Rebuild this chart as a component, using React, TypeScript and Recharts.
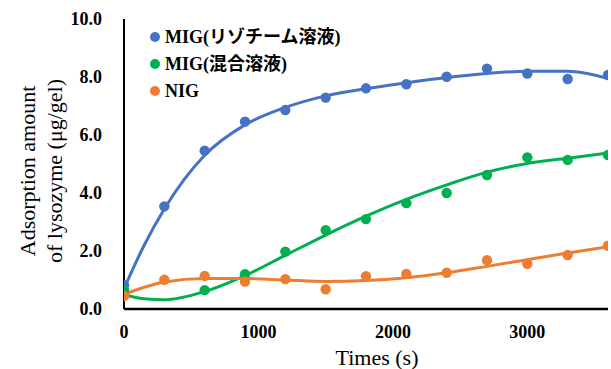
import React from 'react';
import { ComposedChart, Line, Scatter, XAxis, YAxis } from 'recharts';

const times = [0, 300, 600, 900, 1200, 1500, 1800, 2100, 2400, 2700, 3000, 3300, 3600];
const migLysozyme = [0.82, 3.54, 5.46, 6.46, 6.86, 7.29, 7.61, 7.75, 8.01, 8.29, 8.12, 7.93, 8.07];
const migMixed = [0.66, null, 0.65, 1.2, 1.98, 2.72, 3.1, 3.65, 4.0, 4.62, 5.23, 5.14, 5.31];
const nig = [0.45, 1.01, 1.14, 0.95, 1.03, 0.68, 1.13, 1.21, 1.25, 1.68, 1.56, 1.86, 2.18];

const trendTimes = [0, 150, 300, 600, 900, 1200, 1500, 1800, 2100, 2400, 2700, 3000, 3300, 3600];
const trendLysozyme = [0.7, 2.2, 3.45, 5.3, 6.35, 6.95, 7.35, 7.6, 7.8, 7.98, 8.12, 8.2, 8.2, 7.95];
const trendMixed = [0.5, 0.35, 0.32, 0.6, 1.15, 1.85, 2.55, 3.2, 3.78, 4.28, 4.72, 5.02, 5.2, 5.38];
const trendNig = [0.5, 0.75, 0.93, 1.05, 1.05, 1.0, 0.95, 0.98, 1.08, 1.25, 1.47, 1.7, 1.93, 2.15];

const xTicks = [0, 1000, 2000, 3000];
const yTicks = [0, 2, 4, 6, 8, 10];
const seriesNames = ['MIG(リゾチーム溶液)', 'MIG(混合溶液)', 'NIG'];
const colors = ['#4472C4', '#00B050', '#ED7D31'];

const FONT = "'Liberation Serif', 'Times New Roman', 'Noto Sans CJK JP', serif";

const toPoints = (xs: number[], ys: (number | null)[]) =>
  xs.map((t, i) => ({ t, v: ys[i] })).filter((d) => d.v !== null);

const pointSets = [toPoints(times, migLysozyme), toPoints(times, migMixed), toPoints(times, nig)];
const trendSets = [toPoints(trendTimes, trendLysozyme), toPoints(trendTimes, trendMixed), toPoints(trendTimes, trendNig)];

const dot = (color: string) => (props: any) => (
  <circle cx={props.cx} cy={props.cy} r={5.2} fill={color} />
);

const LegendBox = () => (
  <div
    style={{
      position: 'absolute',
      left: 150,
      top: 23,
      fontFamily: FONT,
      fontWeight: 'bold',
      fontSize: 18,
      color: '#000',
      lineHeight: 1,
    }}
  >
    {seriesNames.map((n, i) => (
      <div key={n} style={{ display: 'flex', alignItems: 'center', height: 27 }}>
        <span
          style={{
            display: 'inline-block',
            width: 10,
            height: 10,
            borderRadius: 5,
            background: colors[i],
            marginRight: 5,
          }}
        />
        <span>{n}</span>
      </div>
    ))}
  </div>
);

const YTitle = (props: any) => {
  const vb = props.viewBox || { x: 0, y: 19, width: 124, height: 290 };
  const cy = vb.y + vb.height / 2 + 7;
  return (
    <g fontFamily={FONT} fontSize={22} fill="#000">
      <text x={27} y={cy} transform={`rotate(-90, 27, ${cy})`} textAnchor="middle" dominantBaseline="central">
        Adsorption amount
      </text>
      <text x={54} y={cy} transform={`rotate(-90, 54, ${cy})`} textAnchor="middle" dominantBaseline="central">
        of lysozyme (μg/gel)
      </text>
    </g>
  );
};

const XTitle = (props: any) => {
  const vb = props.viewBox || { x: 124, y: 309, width: 484, height: 60 };
  const cx = vb.x + vb.width / 2 + 11;
  return (
    <text x={cx} y={357} textAnchor="middle" dominantBaseline="central" fontFamily={FONT} fontSize={22} fill="#000">
      Times (s)
    </text>
  );
};

export default function App() {
  return (
    <div style={{ position: 'absolute', left: 0, top: 0, width: 611, height: 369, background: '#fff' }}>
      <ComposedChart width={611} height={369} margin={{ top: 19, right: 3, bottom: 0, left: 0 }}>
        <XAxis
          dataKey="t"
          type="number"
          domain={[0, 3600]}
          ticks={xTicks}
          allowDataOverflow
          tickLine={false}
          tickSize={0}
          tickMargin={16}
          height={60}
          axisLine={{ stroke: '#000', strokeWidth: 2.5 }}
          tick={{ fill: '#000', fontFamily: FONT, fontWeight: 'bold', fontSize: 18 }}
          label={<XTitle />}
        />
        <YAxis
          type="number"
          domain={[0, 10]}
          ticks={yTicks}
          allowDataOverflow
          width={124}
          tickLine={false}
          tickSize={0}
          tickMargin={22}
          tickFormatter={(v: number) => v.toFixed(1)}
          axisLine={{ stroke: '#000', strokeWidth: 2 }}
          tick={{ fill: '#000', fontFamily: FONT, fontWeight: 'bold', fontSize: 18 }}
          label={<YTitle />}
        />
        {trendSets.map((d, i) => (
          <Line
            key={'l' + i}
            data={d}
            dataKey="v"
            type="monotone"
            stroke={colors[i]}
            strokeWidth={3}
            dot={false}
            activeDot={false}
            legendType="none"
            isAnimationActive={false}
          />
        ))}
        {pointSets.map((d, i) => (
          <Scatter
            key={'s' + i}
            name={seriesNames[i]}
            data={d}
            dataKey="v"
            fill={colors[i]}
            shape={dot(colors[i])}
            isAnimationActive={false}
          />
        ))}
      </ComposedChart>
      <LegendBox />
    </div>
  );
}
